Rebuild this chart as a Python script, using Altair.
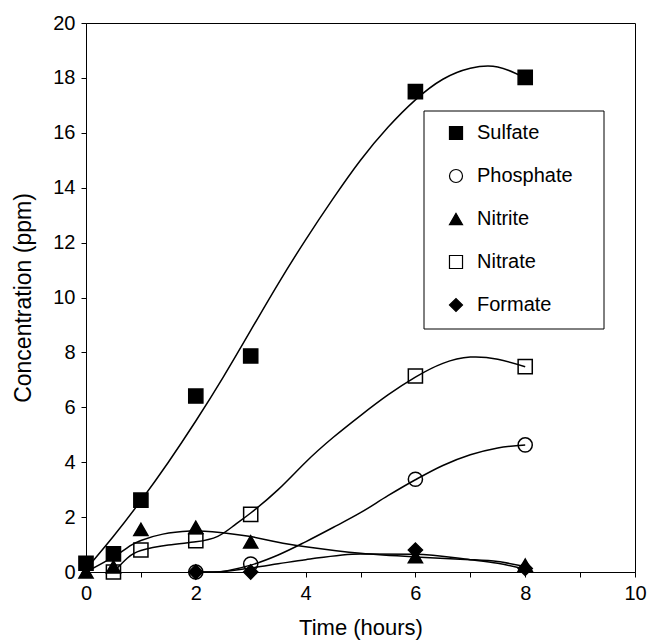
import altair as alt
import pandas as pd

# ---- measured data points ----
series_order = ["Sulfate", "Phosphate", "Nitrite", "Nitrate", "Formate"]

sulfate_t = [0, 0.5, 1, 2, 3, 6, 8]
sulfate_v = [0.32, 0.66, 2.62, 6.41, 7.87, 17.5, 18.02]

phosphate_t = [2, 3, 6, 8]
phosphate_v = [0.0, 0.29, 3.38, 4.63]

nitrite_t = [0, 0.5, 1, 2, 3, 6, 8]
nitrite_v = [0.0, 0.19, 1.55, 1.63, 1.1, 0.56, 0.25]

nitrate_t = [0.5, 1, 2, 3, 6, 8]
nitrate_v = [0.0, 0.8, 1.14, 2.1, 7.14, 7.48]

formate_t = [2, 3, 6, 8]
formate_v = [0.0, 0.0, 0.8, 0.13]

# ---- fitted curves ----
sulfate_ct = [0, 0.5, 1, 1.5, 2, 2.5, 3, 3.5, 4, 4.5, 5, 5.5, 6, 6.5, 7, 7.5, 8]
sulfate_cv = [0.1, 1.3, 2.6, 4.0, 5.5, 7.1, 8.8, 10.5, 12.1, 13.6, 15.0, 16.2, 17.2, 17.95, 18.35, 18.4, 18.0]

phosphate_ct = [2, 2.3, 3, 3.5, 4, 4.5, 5, 5.5, 6, 6.5, 7, 7.5, 8]
phosphate_cv = [0.0, 0.0, 0.25, 0.62, 1.1, 1.62, 2.16, 2.78, 3.36, 3.88, 4.27, 4.52, 4.63]

nitrite_ct = [0, 0.5, 0.8, 1, 1.4, 1.9, 2.3, 3, 3.5, 4, 5, 6, 7, 7.5, 8]
nitrite_cv = [0.0, 0.55, 0.95, 1.15, 1.38, 1.49, 1.47, 1.29, 1.08, 0.92, 0.68, 0.55, 0.45, 0.38, 0.2]

nitrate_ct = [0.5, 0.75, 1, 1.5, 2, 2.4, 2.7, 3, 3.5, 4, 4.5, 5, 5.5, 6, 6.5, 7, 7.5, 8]
nitrate_cv = [0.0, 0.5, 0.78, 0.98, 1.1, 1.3, 1.7, 2.15, 3.0, 4.0, 4.9, 5.7, 6.45, 7.1, 7.6, 7.83, 7.75, 7.48]

formate_ct = [2, 2.3, 3, 3.5, 4, 5, 6, 7, 7.5, 8]
formate_cv = [0.0, 0.0, 0.15, 0.3, 0.45, 0.66, 0.65, 0.45, 0.32, 0.1]

x_ticks = [i * 0.5 for i in range(21)]
y_ticks = list(range(21))

FONT = "Liberation Sans"

pts = []
for name, ts, vs in [("Sulfate", sulfate_t, sulfate_v), ("Phosphate", phosphate_t, phosphate_v),
                     ("Nitrite", nitrite_t, nitrite_v), ("Nitrate", nitrate_t, nitrate_v),
                     ("Formate", formate_t, formate_v)]:
    for t, v in zip(ts, vs):
        pts.append({"series": name, "t": t, "v": v})
pts = pd.DataFrame(pts)

crv = []
for name, ts, vs in [("Sulfate", sulfate_ct, sulfate_cv), ("Phosphate", phosphate_ct, phosphate_cv),
                     ("Nitrite", nitrite_ct, nitrite_cv), ("Nitrate", nitrate_ct, nitrate_cv),
                     ("Formate", formate_ct, formate_cv)]:
    for t, v in zip(ts, vs):
        crv.append({"series": name, "t": t, "v": v})
crv = pd.DataFrame(crv)

xscale = alt.Scale(domain=[0, 10], nice=False, zero=False)
yscale = alt.Scale(domain=[0, 20], nice=False, zero=False)

xaxis = alt.Axis(
    values=x_ticks, labelExpr="datum.value % 2 === 0 ? format(datum.value, 'd') : ''",
    title="Time (hours)", grid=False, tickSize=5, labelPadding=6, labelOverlap=False,
    labelFlush=False, labelBound=False, titlePadding=14, titleFontSize=22,
)
yaxis = alt.Axis(
    values=y_ticks, labelExpr="datum.value % 2 === 0 ? format(datum.value, 'd') : ''",
    title="Concentration (ppm)", grid=False, tickSize=5, labelPadding=6, labelOverlap=False,
    labelFlush=False, labelBound=False, titlePadding=17, titleFontSize=23,
)

smooth_lines = alt.Chart(crv).transform_filter(
    alt.FieldOneOfPredicate(field="series", oneOf=["Sulfate", "Nitrite", "Nitrate"])
).mark_line(color="black", strokeWidth=1.5, interpolate="natural").encode(
    x=alt.X("t:Q", scale=xscale, axis=xaxis),
    y=alt.Y("v:Q", scale=yscale, axis=yaxis),
    detail="series:N",
)

mono_lines = alt.Chart(crv).transform_filter(
    alt.FieldOneOfPredicate(field="series", oneOf=["Phosphate", "Formate"])
).mark_line(color="black", strokeWidth=1.5, interpolate="monotone").encode(
    x=alt.X("t:Q", scale=xscale),
    y=alt.Y("v:Q", scale=yscale),
    detail="series:N",
)

frame = alt.Chart(pd.DataFrame({"k": [0]})).mark_rect(
    fill="white", stroke="black", strokeWidth=1
).encode(
    x=alt.value(338), x2=alt.value(518), y=alt.value(88), y2=alt.value(306)
)

legend = alt.Legend(
    title=None, orient="none", legendX=360, legendY=100, padding=0,
    labelFontSize=20, labelFont=FONT, labelColor="black", rowPadding=23,
    symbolSize=170, symbolStrokeWidth=1.2, labelOffset=11,
)

points = alt.Chart(pts).mark_point(size=200, strokeWidth=1.5, opacity=1, stroke="black").encode(
    x=alt.X("t:Q", scale=xscale),
    y=alt.Y("v:Q", scale=yscale),
    shape=alt.Shape("series:N", sort=series_order, legend=legend,
                    scale=alt.Scale(domain=series_order,
                                    range=["square", "circle", "triangle-up", "square", "diamond"])),
    fill=alt.Fill("series:N", sort=series_order, legend=legend,
                  scale=alt.Scale(domain=series_order,
                                  range=["black", "transparent", "black", "transparent", "black"])),
)

chart = alt.layer(smooth_lines, mono_lines, frame, points).properties(
    width=549, height=549,
    background="white",
    autosize=alt.AutoSizeParams(type="none"),
    padding={"left": 86, "top": 23, "right": 13, "bottom": 71},
).configure_view(stroke="black", strokeWidth=1).configure_axis(
    domainColor="black", tickColor="black", labelColor="black", titleColor="black",
    labelFont=FONT, titleFont=FONT, labelFontSize=20, titleFontWeight="normal",
    domainWidth=1, tickWidth=1,
)

chart.save("out.html", embed_options={"renderer": "svg", "actions": False})
